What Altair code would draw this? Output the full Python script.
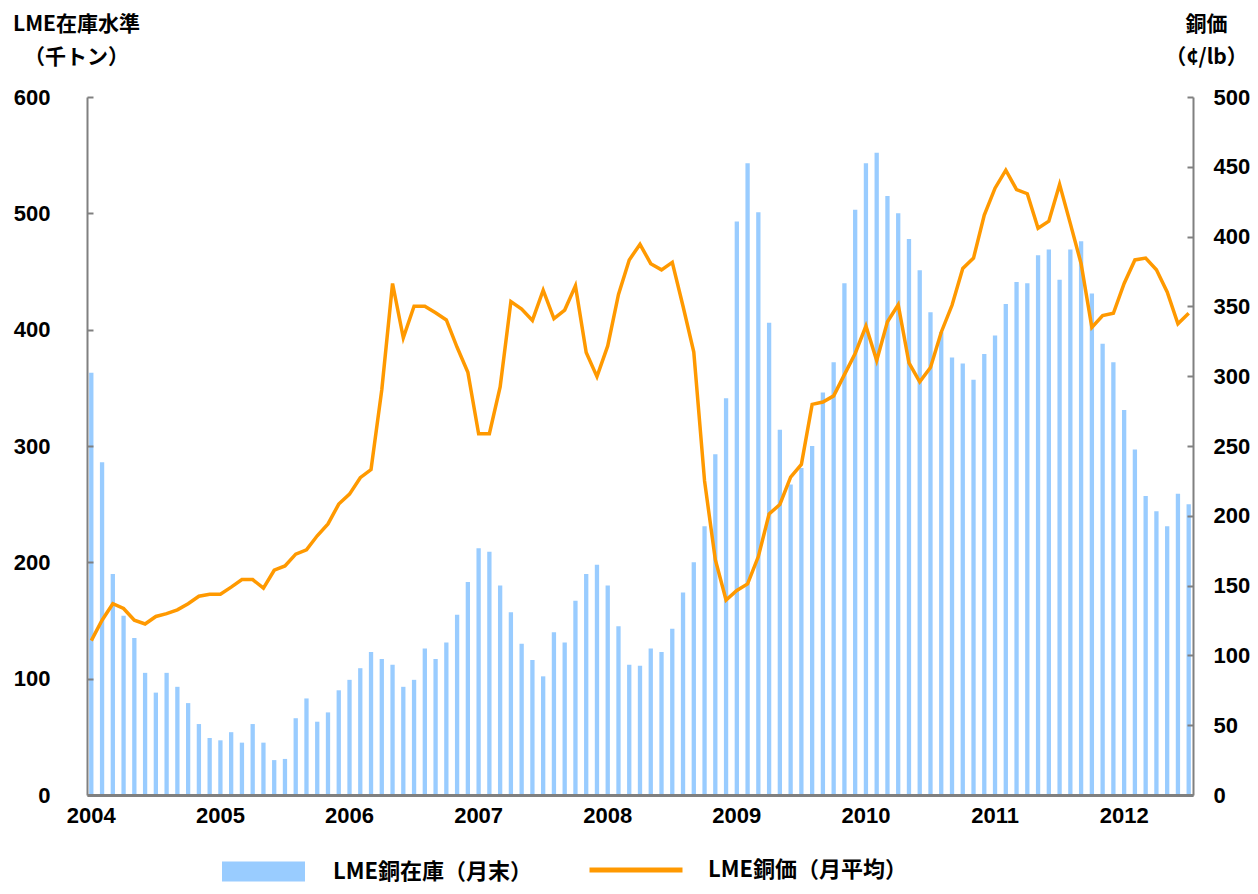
import altair as alt
import pandas as pd

years = list(range(2004, 2013))
months = [f"{y}-{m:02d}" for y in years for m in range(1, 13)][:103]

# LME copper stock, end of month (thousand tonnes)
stock = [
    363, 286, 190, 154, 135, 105, 88, 105, 93, 79, 61, 49,      # 2004
    47, 54, 45, 61, 45, 30, 31, 66, 83, 63, 71, 90,             # 2005
    99, 109, 123, 117, 112, 93, 99, 126, 117, 131, 155, 183,    # 2006
    212, 209, 180, 157, 130, 116, 102, 140, 131, 167, 190, 198, # 2007
    180, 145, 112, 111, 126, 123, 143, 174, 200, 231, 293, 341, # 2008
    493, 543, 501, 406, 314, 267, 281, 300, 346, 372, 440, 503, # 2009
    543, 552, 515, 500, 478, 451, 415, 398, 376, 371, 357, 379, # 2010
    395, 422, 441, 440, 464, 469, 443, 469, 476, 431, 388, 372, # 2011
    331, 297, 257, 244, 231, 259, 250,                          # 2012
]

# LME copper price, monthly average (cents/lb)
price = [
    110.6, 125.2, 137.0, 133.6, 125.2, 122.5, 127.9, 129.9, 132.6, 137.0, 142.4, 143.8,
    143.8, 148.9, 154.3, 154.3, 148.2, 161.0, 164.1, 172.5, 175.6, 185.7, 194.2, 208.4,
    215.5, 227.3, 233.1, 290.3, 366.4, 327.5, 350.1, 350.1, 345.4, 340.3, 320.7, 302.8,
    258.8, 258.8, 292.3, 353.5, 348.1, 340.0, 361.6, 341.3, 347.4, 364.7, 317.0, 299.7,
    321.7, 358.6, 383.3, 394.5, 380.6, 376.2, 381.6, 350.1, 317.3, 225.0, 168.5, 139.7,
    146.5, 151.2, 170.8, 201.3, 208.1, 227.7, 236.8, 279.8, 281.5, 285.9, 301.1, 316.3,
    335.9, 311.2, 339.0, 351.2, 309.5, 296.0, 306.2, 331.5, 350.8, 377.2, 384.6, 415.4,
    434.7, 447.6, 433.7, 430.7, 406.0, 411.0, 437.4, 409.3, 380.6, 334.9, 343.4, 345.1,
    366.4, 383.3, 384.6, 376.2, 360.3, 337.6, 345.1,
]

year_ticks = [f"{y}-01" for y in years]
left_ticks = [0, 100, 200, 300, 400, 500, 600]
right_ticks = [0, 50, 100, 150, 200, 250, 300, 350, 400, 450, 500]
stock_name = "LME銅在庫（月末）"
price_name = "LME銅価（月平均）"

df = pd.DataFrame({
    "month": months,
    "stock": stock,
    "price": price,
    "s1": stock_name,
    "s2": price_name,
})

num_font = "Liberation Sans, Arial, sans-serif"
jp_font = "Noto Sans CJK JP"
grey = "#808080"

x_enc = alt.X(
    "month:O",
    scale=alt.Scale(paddingInner=0.6, paddingOuter=0.2),
    axis=alt.Axis(
        values=year_ticks,
        labelExpr="substring(datum.value, 0, 4)",
        title=None,
        ticks=False,
        grid=False,
        labelAngle=0,
        labelPadding=10,
        labelFont=num_font,
        labelFontSize=22,
        labelFontWeight="bold",
        labelColor="black",
        domainColor=grey,
        domainWidth=3,
        zindex=1,
    ),
)

bars = alt.Chart(df).mark_bar().encode(
    x=x_enc,
    y=alt.Y(
        "stock:Q",
        scale=alt.Scale(domain=[0, 600], nice=False),
        axis=alt.Axis(
            values=left_ticks,
            title=["LME在庫水準", "（千トン）"],
            titleAngle=0,
            titleAlign="center",
            titleBaseline="top",
            titleX=-11,
            titleY=-84,
            titleFont=jp_font,
            titleFontSize=21,
            titleFontWeight="bold",
            titleLineHeight=33,
            titleColor="black",
            labelFont=num_font,
            labelFontSize=22,
            labelFontWeight="bold",
            labelColor="black",
            labelPadding=37,
            ticks=False,
            domainColor=grey,
            domainWidth=2,
            grid=True,
            gridDash=[6, 3000],
            gridColor=grey,
            gridWidth=2,
            zindex=1,
        ),
    ),
    fill=alt.Fill(
        "s1:N",
        scale=alt.Scale(range=["#99CCFF"]),
        legend=alt.Legend(
            orient="none",
            legendX=135,
            legendY=733,
            title=None,
            symbolType="M-1,-0.24H1V0.24H-1Z",
            symbolSize=6889,
            symbolStrokeWidth=0,
            symbolOpacity=1,
            labelFont=jp_font,
            labelFontSize=22,
            labelFontWeight="bold",
            labelColor="black",
            labelOffset=28,
            labelLimit=0,
            padding=0,
        ),
    ),
)

line = alt.Chart(df).mark_line(strokeWidth=3.5).encode(
    x=x_enc,
    y=alt.Y(
        "price:Q",
        scale=alt.Scale(domain=[0, 500], nice=False),
        axis=alt.Axis(
            orient="right",
            values=right_ticks,
            title=["銅価", "（¢/lb）"],
            titleAngle=0,
            titleAlign="center",
            titleBaseline="top",
            titleX=13,
            titleY=-84,
            titleFont=jp_font,
            titleFontSize=21,
            titleFontWeight="bold",
            titleLineHeight=33,
            titleColor="black",
            labelFont=num_font,
            labelFontSize=22,
            labelFontWeight="bold",
            labelColor="black",
            labelPadding=20,
            ticks=False,
            domainColor=grey,
            domainWidth=2,
            grid=True,
            gridDash=[6, 3000],
            gridColor=grey,
            gridWidth=2,
            zindex=1,
        ),
    ),
    stroke=alt.Stroke(
        "s2:N",
        scale=alt.Scale(range=["#FF9900"]),
        legend=alt.Legend(
            orient="none",
            legendX=500,
            legendY=724,
            title=None,
            symbolType="stroke",
            symbolSize=8649,
            symbolStrokeWidth=5,
            labelFont=jp_font,
            labelFontSize=22,
            labelFontWeight="bold",
            labelColor="black",
            labelOffset=23,
            labelLimit=0,
            padding=0,
        ),
    ),
)

chart = (
    alt.layer(bars, line)
    .resolve_scale(y="independent")
    .properties(
        width=1106,
        height=698,
        autosize=alt.AutoSizeParams(type="none"),
        padding={"left": 79, "top": 89, "right": 57, "bottom": 91},
        background="white",
    )
    .configure_view(strokeWidth=0)
)

chart.save("out.html", embed_options={"renderer": "svg", "actions": False})
